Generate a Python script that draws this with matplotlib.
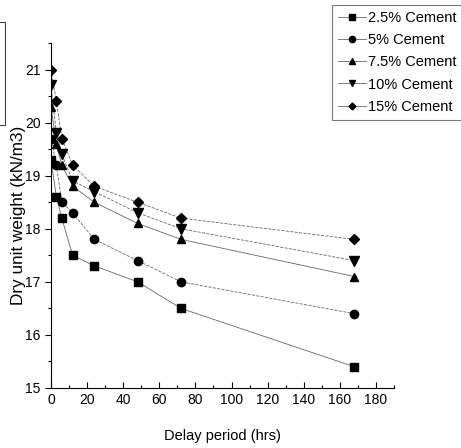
import matplotlib
matplotlib.use("Agg")
import matplotlib.pyplot as plt
from matplotlib.patches import Rectangle
from matplotlib.ticker import MultipleLocator

plt.rcParams["font.family"] = ["Liberation Sans", "DejaVu Sans"]

# delay period (hrs) and dry unit weight (kN/m3) per cement content
delay = [0, 3, 6, 12, 24, 48, 72, 168]
cement_25 = [19.3, 18.6, 18.2, 17.5, 17.3, 17.0, 16.5, 15.4]
cement_5 = [19.7, 19.2, 18.5, 18.3, 17.8, 17.4, 17.0, 16.4]
cement_75 = [20.3, 19.6, 19.2, 18.8, 18.5, 18.1, 17.8, 17.1]
cement_10 = [20.7, 19.8, 19.4, 18.9, 18.7, 18.3, 18.0, 17.4]
cement_15 = [21.0, 20.4, 19.7, 19.2, 18.8, 18.5, 18.2, 17.8]
labels = ["2.5% Cement", "5% Cement", "7.5% Cement", "10% Cement", "15% Cement"]

series = [cement_25, cement_5, cement_75, cement_10, cement_15]
markers = ["s", "o", "^", "v", "D"]
sizes = [5.5, 6, 6, 6.5, 5]
styles = ["-", "--", "-", "--", "--"]

fig = plt.figure(figsize=(4.61, 4.48), dpi=100)
ax = fig.add_axes([0.1106, 0.134, 0.744, 0.770])

handles = []
for vals, mk, ms, ls, lab in zip(series, markers, sizes, styles, labels):
    ax.plot(delay, vals, color="#666666", lw=0.6, ls=ls, zorder=1)
    ax.plot(delay, vals, ls="none", marker=mk, ms=ms, color="black", zorder=2)
    h, = ax.plot([], [], color="#666666", lw=0.6, marker=mk, ms=ms - 1.5,
                 mfc="black", mec="black", label=lab)
    handles.append(h)

ax.set_xlim(0, 190)
ax.set_ylim(15, 21.5)
ax.xaxis.set_major_locator(MultipleLocator(20))
ax.xaxis.set_minor_locator(MultipleLocator(10))
ax.yaxis.set_major_locator(MultipleLocator(1))
ax.yaxis.set_minor_locator(MultipleLocator(0.5))
ax.set_xticks(range(0, 181, 20))
ax.spines["top"].set_visible(False)
ax.spines["right"].set_visible(False)
for s in ("left", "bottom"):
    ax.spines[s].set_linewidth(0.8)
ax.tick_params(axis="x", which="major", direction="in", length=4, width=0.8, labelsize=10)
ax.tick_params(axis="x", which="minor", direction="in", length=2.5, width=0.8)
ax.tick_params(axis="y", which="major", direction="out", length=4, width=0.8, labelsize=10)
ax.tick_params(axis="y", which="minor", direction="out", length=2.5, width=0.8)

ax.set_xlabel("Delay period (hrs)", fontsize=10.5, labelpad=16)
ax.set_ylabel("Dry unit weight (kN/m3)", fontsize=12.3, labelpad=-1)

leg = fig.legend(handles=handles, loc="upper left", bbox_to_anchor=(0.72, 0.989),
                 borderaxespad=0, frameon=True, fancybox=False, edgecolor="#555555",
                 fontsize=10.5, handlelength=1.95, handletextpad=0.12,
                 labelspacing=0.56, borderpad=0.42)
leg.get_frame().set_linewidth(0.8)

# partial box at the left edge
fig.patches.append(Rectangle((-0.05, 1 - 125 / 448), 0.05 + 5 / 461, 103 / 448,
                             transform=fig.transFigure, fill=False,
                             edgecolor="#444444", lw=0.8))

fig.savefig("out.png", dpi=100)
